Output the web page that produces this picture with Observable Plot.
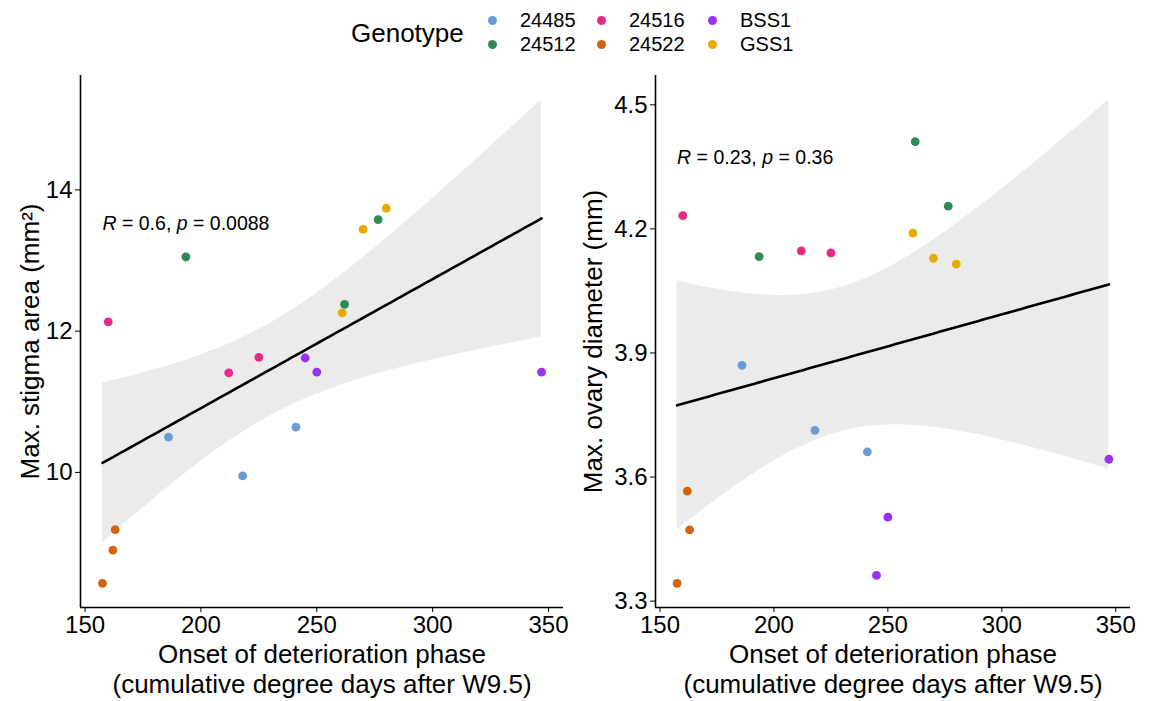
<!DOCTYPE html>
<html><head><meta charset="utf-8">
<script src="https://cdn.jsdelivr.net/npm/d3@7"></script>
<script src="https://cdn.jsdelivr.net/npm/@observablehq/plot@0.6"></script>
<style>
body{margin:0;background:#fff;font-family:"Liberation Sans",Arial,sans-serif;color:#000;}
#legend{position:relative;height:60px;width:1152px;}
#legend .t{position:absolute;font-size:26px;line-height:1;}
#legend .l{position:absolute;font-size:20px;line-height:1;}
#legend .d{position:absolute;width:9px;height:9px;border-radius:50%;}
#row{display:flex;width:1152px;}
</style></head><body>
<div id="legend"></div>
<div id="row"></div>
<script>
// ---- data ----
const genotypes = ["24485", "24512", "24516", "24522", "BSS1", "GSS1"];
const genotypeColors = ["#6A9BD6", "#2E8B57", "#E7298A", "#D2650A", "#9B30F0", "#E6AB02"];
const sampleGenotype = ["24485","24485","24485","24512","24512","24512","24516","24516","24516","24522","24522","24522","BSS1","BSS1","BSS1","GSS1","GSS1","GSS1"];
const onset =        [186, 218, 241, 193.5, 262, 276.5, 160, 212, 225, 157.5, 162, 163, 245, 250, 347, 261, 270, 280];
const stigmaArea =   [10.50, 9.95, 10.64, 13.05, 12.38, 13.58, 12.13, 11.41, 11.63, 8.43, 8.90, 9.19, 11.62, 11.42, 11.42, 12.26, 13.44, 13.74];
const ovaryDiameter = [3.870, 3.713, 3.661, 4.133, 4.411, 4.255, 4.232, 4.147, 4.142, 3.343, 3.566, 3.472, 3.362, 3.503, 3.643, 4.190, 4.129, 4.115];
const xTicks = [150, 200, 250, 300, 350];
const stigmaTicks = [10, 12, 14];
const ovaryTicks = [3.3, 3.6, 3.9, 4.2, 4.5];
const corLabels = ["R = 0.6, p = 0.0088", "R = 0.23, p = 0.36"];
const corLabelY = [13.52, 4.372];
const xTitle = ["Onset of deterioration phase", "(cumulative degree days after W9.5)"];
const yTitles = ["Max. stigma area (mm²)", "Max. ovary diameter (mm)"];
const legendTitle = "Genotype";

// ---- legend ----
const leg = document.getElementById("legend");
const t = document.createElement("div");
t.className = "t"; t.textContent = legendTitle;
t.style.left = "351px"; t.style.top = "20px";
leg.appendChild(t);
const colX = [492, 601, 712];
const rowY = [20, 44];
genotypes.forEach((g, i) => {
  const c = Math.floor(i / 2), r = i % 2;
  const d = document.createElement("div");
  d.className = "d"; d.style.background = genotypeColors[i];
  d.style.left = (colX[c] - 4.5) + "px"; d.style.top = (rowY[r] - 4.5) + "px";
  leg.appendChild(d);
  const l = document.createElement("div");
  l.className = "l"; l.textContent = g;
  l.style.left = (colX[c] + 28) + "px"; l.style.top = (rowY[r] - 10) + "px";
  leg.appendChild(l);
});

// ---- panels ----
function expand([a, b]) { const e = (b - a) * 0.05; return [a - e, b + e]; }

function panel(yv, yTicks, tickFmt, yTitle, corLabel, corY, marginLeft, marginRight, titleDx) {
  const data = onset.map((x, i) => ({x, y: yv[i], g: sampleGenotype[i]}));
  const n = data.length;
  const mx = d3.mean(data, d => d.x), my = d3.mean(data, d => d.y);
  const sxx = d3.sum(data, d => (d.x - mx) ** 2);
  const sxy = d3.sum(data, d => (d.x - mx) * (d.y - my));
  const b = sxy / sxx, a = my - b * mx;
  const s = Math.sqrt(d3.sum(data, d => (d.y - a - b * d.x) ** 2) / (n - 2));
  const tq = 2.119905; // qt(0.975, df = 16)
  const [x0, x1] = d3.extent(data, d => d.x);
  const fit = d3.range(80).map(i => {
    const x = x0 + (x1 - x0) * i / 79;
    const yh = a + b * x;
    const se = s * Math.sqrt(1 / n + (x - mx) ** 2 / sxx);
    return {x, y: yh, lo: yh - tq * se, hi: yh + tq * se};
  });
  const xd = expand([x0, x1]);
  const yd = expand([Math.min(d3.min(data, d => d.y), d3.min(fit, d => d.lo)),
                     Math.max(d3.max(data, d => d.y), d3.max(fit, d => d.hi))]);
  const svg = Plot.plot({
    width: 576, height: 641,
    marginTop: 15, marginBottom: 94, marginLeft, marginRight,
    style: {fontFamily: "'Liberation Sans', Arial, sans-serif", background: "white", color: "black", overflow: "visible"},
    x: {domain: xd},
    y: {domain: yd},
    color: {domain: genotypes, range: genotypeColors},
    marks: [
      Plot.areaY(fit, {x: "x", y1: "lo", y2: "hi", fill: "#EBEBEB"}),
      Plot.lineY(fit, {x: "x", y: "y", stroke: "black", strokeWidth: 2.6}),
      Plot.dot(data, {x: "x", y: "y", fill: "g", r: 4.4}),
      Plot.text([corLabel], {x: x0, y: corY, text: d => d, textAnchor: "start", fontSize: 19.5}),
      Plot.ruleX([xd[0]], {stroke: "black", strokeWidth: 1.6}),
      Plot.ruleY([yd[0]], {stroke: "black", strokeWidth: 1.6}),
      Plot.axisX({ticks: xTicks, tickSize: 5, tickPadding: 3, fontSize: 24, label: null, tickFormat: d => String(d)}),
      Plot.axisY({ticks: yTicks, tickSize: 5, tickPadding: 3, fontSize: 24, label: null, tickFormat: tickFmt}),
      Plot.text([xTitle[0]], {frameAnchor: "bottom", text: d => d, textAnchor: "middle", lineAnchor: "middle", dy: 47.5, fontSize: 26}),
      Plot.text([xTitle[1]], {frameAnchor: "bottom", text: d => d, textAnchor: "middle", lineAnchor: "middle", dy: 77, fontSize: 26}),
      Plot.text([yTitle], {frameAnchor: "left", text: d => d, textAnchor: "middle", lineAnchor: "middle", rotate: -90, dx: titleDx, fontSize: 26})
    ]
  });
  // italic R and p
  svg.querySelectorAll("text").forEach(el => {
    if (el.textContent === corLabel && el.children.length === 0) {
      const m = corLabel.match(/^(R)( = [^,]+, )(p)( = .+)$/);
      if (!m) return;
      el.textContent = "";
      m.slice(1).forEach((part, i) => {
        const ts = document.createElementNS("http://www.w3.org/2000/svg", "tspan");
        ts.textContent = part;
        if (i % 2 === 0) ts.setAttribute("font-style", "italic");
        el.appendChild(ts);
      });
    }
  });
  return svg;
}

const row = document.getElementById("row");
row.appendChild(panel(stigmaArea, stigmaTicks, d => String(d), yTitles[0], corLabels[0], corLabelY[0], 80, 13, -50));
row.appendChild(panel(ovaryDiameter, ovaryTicks, d => d.toFixed(1), yTitles[1], corLabels[1], corLabelY[1], 79, 22, -62));
</script>
</body></html>
